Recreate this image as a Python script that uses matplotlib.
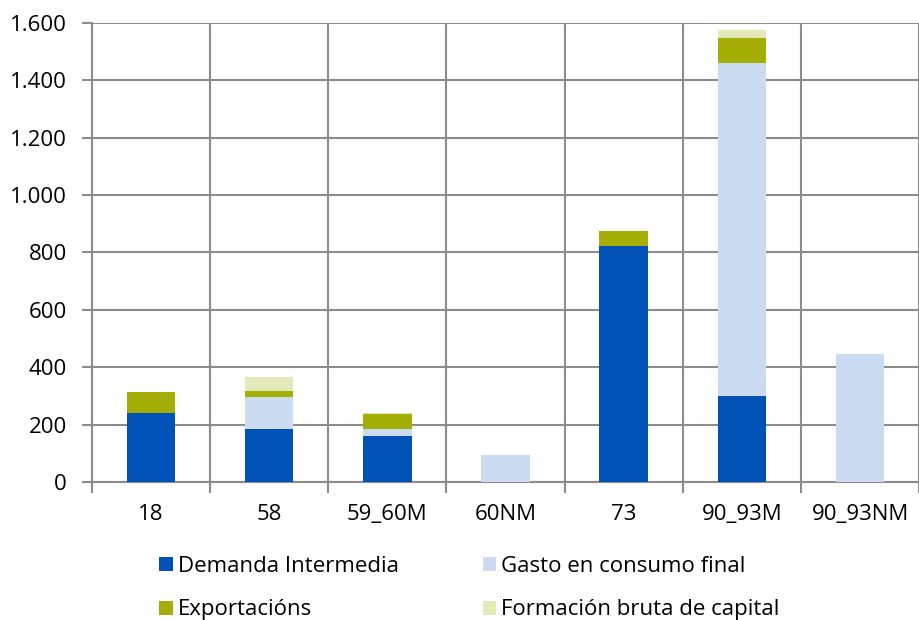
import numpy as np
import matplotlib.pyplot as plt
from matplotlib.ticker import FuncFormatter, FixedLocator
from matplotlib.patches import Patch

plt.rcParams['font.family'] = ['Open Sans', 'DejaVu Sans']

categories = ['18', '58', '59_60M', '60NM', '73', '90_93M', '90_93NM']
demanda = [242, 183, 162, 0, 821, 300, 0]
gasto = [0, 114, 21, 93, 0, 1161, 445]
exportacions = [70, 20, 55, 0, 55, 87, 0]
formacion = [0, 49, 3, 0, 0, 28, 0]

labels = ['Demanda Intermedia', 'Gasto en consumo final',
          'Exportacións', 'Formación bruta de capital']
colors = ['#0052b6', '#cbdcf2', '#a5ae05', '#e3e9b7']

fig = plt.figure(figsize=(9.19, 6.2), dpi=100)
ax = fig.add_axes([0.1001, 0.2226, 0.9, 0.7404])

x = np.arange(len(categories))
width = 0.41
bottom = np.zeros(len(categories))
for vals, lab, col in zip([demanda, gasto, exportacions, formacion], labels, colors):
    ax.bar(x, vals, width, bottom=bottom, color=col, label=lab, zorder=3)
    bottom += np.array(vals)

ax.set_xlim(-0.5, len(categories) - 0.5)
ax.set_ylim(0, 1600)
ax.set_yticks(np.arange(0, 1601, 200))
ax.yaxis.set_major_formatter(FuncFormatter(lambda v, p: '{:,.0f}'.format(v).replace(',', '.')))

ax.set_xticks(x)
ax.set_xticklabels(categories)
ax.xaxis.set_minor_locator(FixedLocator(np.arange(-0.5, len(categories), 1.0)))

gc = '#8c8c8c'
ax.grid(axis='y', which='major', color=gc, linewidth=1.5, zorder=0)
ax.grid(axis='x', which='minor', color=gc, linewidth=1.5, zorder=0)
ax.tick_params(axis='x', which='major', length=0, pad=16, labelsize=16)
ax.tick_params(axis='x', which='minor', length=8, width=1.5, color=gc)
ax.tick_params(axis='y', length=7, width=1.5, color=gc, labelsize=16, pad=11)

for s in ['top', 'right']:
    ax.spines[s].set_visible(False)
for s in ['left', 'bottom']:
    ax.spines[s].set_color(gc)
    ax.spines[s].set_linewidth(1.5)

# column-major fill -> reorder so rows read DI/Gasto, Export/FBC
order = [0, 2, 1, 3]
handles = [Patch(facecolor=colors[i], label=labels[i]) for i in order]
fig.legend(handles=handles, ncol=2, loc='center', bbox_to_anchor=(0.511, 0.051),
           frameon=False, fontsize=16, handlelength=0.6, handleheight=0.6,
           handletextpad=0.25, columnspacing=3.75, labelspacing=1.0)

fig.savefig('out.png', dpi=100)
